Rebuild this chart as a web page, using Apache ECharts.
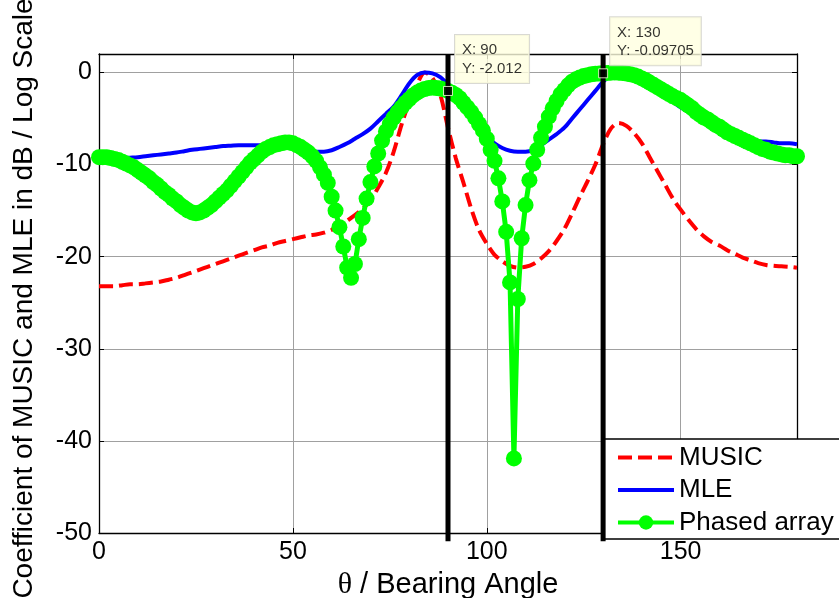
<!DOCTYPE html>
<html>
<head>
<meta charset="utf-8">
<script src="https://cdn.jsdelivr.net/npm/echarts@6/dist/echarts.min.js"></script>
<style>
html,body{margin:0;padding:0;background:#fff;}
#chart{width:839px;height:598px;}
</style>
</head>
<body>
<div id="chart"></div>
<script>
// ---- data ----
// Phased array: sampled every 1 degree from 0 to 180
const phasedStep = 1;
const phasedY = [
-9.2,-9.2,-9.2,-9.3,-9.4,-9.5,-9.7,-9.9,-10.1,-10.3,
-10.6,-10.9,-11.2,-11.5,-11.9,-12.2,-12.6,-13.0,-13.3,-13.7,
-14.0,-14.4,-14.7,-15.0,-15.2,-15.3,-15.2,-15.0,-14.7,-14.4,
-14.0,-13.6,-13.2,-12.8,-12.3,-11.8,-11.3,-10.8,-10.3,-9.8,
-9.4,-9.0,-8.6,-8.3,-8.1,-7.9,-7.8,-7.7,-7.6,-7.6,
-7.7,-7.9,-8.1,-8.4,-8.7,-9.1,-9.6,-10.3,-11.1,-12.0,
-13.5,-15.0,-16.8,-18.9,-21.2,-22.3,-20.8,-18.1,-15.8,-13.7,
-11.9,-10.2,-8.8,-7.4,-6.4,-5.6,-4.9,-4.3,-3.8,-3.3,
-2.9,-2.5,-2.2,-1.95,-1.8,-1.7,-1.65,-1.7,-1.75,-1.85,
-2.012,-2.2,-2.45,-2.8,-3.3,-3.8,-4.3,-4.9,-5.6,-6.3,
-7.2,-8.4,-9.6,-11.5,-14.0,-17.3,-22.8,-41.9,-24.6,-18.0,
-14.4,-11.7,-9.9,-8.4,-7.1,-5.9,-4.8,-3.9,-3.1,-2.4,
-1.9,-1.4,-1.0,-0.75,-0.55,-0.4,-0.3,-0.2,-0.15,-0.12,
-0.097,-0.06,-0.03,-0.02,-0.03,-0.06,-0.12,-0.2,-0.3,-0.45,
-0.65,-0.85,-1.1,-1.35,-1.6,-1.85,-2.1,-2.35,-2.6,-2.8,
-3.0,-3.3,-3.6,-3.9,-4.3,-4.6,-4.9,-5.1,-5.4,-5.7,
-5.9,-6.2,-6.5,-6.7,-6.9,-7.1,-7.3,-7.5,-7.7,-7.9,
-8.1,-8.3,-8.4,-8.6,-8.7,-8.8,-8.9,-9.0,-9.0,-9.1,
-9.1
];
// MUSIC and MLE: sampled every 2 degrees from 0 to 180
const curveStep = 2;
const musicY = [
-23.2,-23.2,-23.2,-23.1,-23.0,-23.0,-22.9,-22.8,-22.7,-22.5,
-22.3,-22.0,-21.7,-21.4,-21.1,-20.8,-20.5,-20.2,-19.9,-19.6,
-19.3,-19.0,-18.8,-18.5,-18.3,-18.1,-17.9,-17.7,-17.6,-17.4,
-17.1,-16.7,-16.1,-15.5,-14.8,-13.9,-12.5,-10.9,-8.6,-5.7,
-3.2,-1.3,0.0,-0.6,-2.4,-6.0,-9.3,-12.0,-14.8,-17.1,
-18.6,-19.8,-20.5,-21.0,-21.2,-21.1,-20.8,-20.2,-19.4,-18.3,
-17.0,-15.3,-13.5,-11.8,-10.0,-7.8,-6.1,-5.5,-5.8,-6.6,
-7.7,-9.2,-10.7,-12.2,-13.7,-14.9,-16.0,-17.0,-17.8,-18.4,
-18.8,-19.3,-19.7,-20.1,-20.4,-20.7,-20.9,-21.0,-21.05,-21.1,
-21.2
];
const mleY = [
-9.3,-9.3,-9.3,-9.3,-9.25,-9.2,-9.1,-9.0,-8.9,-8.8,
-8.7,-8.55,-8.4,-8.3,-8.2,-8.1,-8.0,-7.95,-7.9,-7.9,
-7.9,-7.9,-7.95,-8.0,-8.0,-8.05,-8.2,-8.4,-8.6,-8.6,
-8.45,-8.1,-7.7,-7.2,-6.7,-6.1,-5.3,-4.5,-3.7,-2.5,
-1.2,-0.3,0.0,-0.1,-0.5,-1.3,-2.3,-3.6,-4.9,-6.0,
-6.9,-7.7,-8.2,-8.5,-8.6,-8.6,-8.4,-7.9,-7.3,-6.7,
-6.0,-5.0,-4.0,-3.0,-2.0,-1.0,-0.3,0.0,-0.1,-0.4,
-0.8,-1.4,-2.0,-2.6,-3.2,-3.8,-4.3,-4.8,-5.4,-6.0,
-6.4,-6.8,-7.1,-7.3,-7.4,-7.5,-7.5,-7.6,-7.7,-7.7,
-7.8
];
// data cursors
const cursorX = [90, 130];
const cursorY = [-2.012, -0.09705];
const cursorLineSpan = [2, -50.9];
const cursorText = [['90', '-2.012'], ['130', '-0.09705']];
// axes
const xMin = 0, xMax = 180, xStep = 50;
const yMin = -50, yMax = 2, yStep = 10;
const seriesNames = ['MUSIC', 'MLE', 'Phased array'];
const xTitle = '/ Bearing Angle';
const yTitle = 'Coefficient of MUSIC and MLE in dB / Log Scale';

// ---- build ----
const pairs = (ys, step) => ys.map((v, i) => [i * step, v]);
const FONT = '"Liberation Sans", Arial, sans-serif';

const cursorSeries = cursorX.map((cx, i) => ({
  type: 'line', name: 'cursor' + i,
  data: [[cx, cursorLineSpan[0]], [cx, cursorLineSpan[1]]],
  clip: false, symbol: 'none', silent: true,
  lineStyle: {color: '#000', width: 5}, z: 10
}));

const chart = echarts.init(document.getElementById('chart'), null, {renderer: 'canvas'});
const axisCommon = {
  axisLine: {show: true, onZero: false, lineStyle: {color: '#000', width: 1.3}},
  axisTick: {show: true, inside: true, length: 5, lineStyle: {color: '#000', width: 1}},
};
chart.setOption({
  animation: false,
  backgroundColor: '#fff',
  grid: {left: 99, right: 42, top: 54, bottom: 65, containLabel: false, outerBoundsMode: 'none'},
  legend: {
    data: [
      {name: seriesNames[0], itemStyle: {opacity: 0}},
      {name: seriesNames[1], itemStyle: {opacity: 0}},
      {name: seriesNames[2]}
    ],
    orient: 'vertical', left: 602, top: 439,
    padding: [5, 30, 3, 14],
    backgroundColor: '#fff', borderColor: '#000', borderWidth: 1.3,
    itemWidth: 56, itemHeight: 18, itemGap: 5.5,
    lineStyle: {width: 4},
    textStyle: {fontFamily: FONT, fontSize: 26, color: '#000', lineHeight: 27},
    selectedMode: false
  },
  xAxis: [
    Object.assign({
      type: 'value', min: xMin, max: xMax, interval: xStep, position: 'bottom',
      name: '{t|θ} ' + xTitle, nameLocation: 'middle', nameGap: 27,
      nameTextStyle: {fontFamily: FONT, fontSize: 29, color: '#000',
        rich: {t: {fontFamily: '"Liberation Serif", "DejaVu Serif", serif', fontSize: 30, color: '#000'}}},
      axisLabel: {fontFamily: FONT, fontSize: 25, color: '#000', margin: 7, showMaxLabel: false},
      splitLine: {show: true, lineStyle: {color: '#a0a0a0', width: 1}}
    }, axisCommon),
    Object.assign({
      type: 'value', min: xMin, max: xMax, interval: xStep, position: 'top',
      axisLabel: {show: false}, splitLine: {show: false}
    }, axisCommon)
  ],
  yAxis: [
    Object.assign({
      type: 'value', min: yMin, max: yMax, interval: yStep, position: 'left',
      name: yTitle, nameLocation: 'middle', nameGap: 61, nameRotate: 90,
      nameTextStyle: {fontFamily: FONT, fontSize: 28, color: '#000', padding: [0, 10, 0, 0]},
      axisLabel: {fontFamily: FONT, fontSize: 25, color: '#000', margin: 7, showMaxLabel: false,
        formatter: v => (v < 0 ? '-' + Math.abs(v) : String(v))},
      splitLine: {show: true, lineStyle: {color: '#a0a0a0', width: 1}}
    }, axisCommon),
    Object.assign({
      type: 'value', min: yMin, max: yMax, interval: yStep, position: 'right',
      axisLabel: {show: false}, splitLine: {show: false}
    }, axisCommon)
  ],
  series: [
    {
      type: 'line', name: seriesNames[0], data: pairs(musicY, curveStep),
      symbol: 'none', smooth: 0.3, z: 3,
      lineStyle: {color: '#ff0000', width: 4, type: [14, 6]},
      itemStyle: {color: '#ff0000'}
    },
    {
      type: 'line', name: seriesNames[1], data: pairs(mleY, curveStep),
      symbol: 'none', smooth: 0.3, z: 4,
      lineStyle: {color: '#0000ff', width: 4},
      itemStyle: {color: '#0000ff'}
    },
    {
      type: 'line', name: seriesNames[2], data: pairs(phasedY, phasedStep),
      symbol: 'circle', symbolSize: 16, showAllSymbol: true, z: 5,
      lineStyle: {color: '#00ff00', width: 5},
      itemStyle: {color: '#00ff00', borderWidth: 0}
    },
    ...cursorSeries,
    {
      type: 'scatter', name: 'datatip',
      data: cursorX.map((cx, i) => [cx, cursorY[i]]),
      symbol: 'rect', symbolSize: 9, z: 12, silent: true, clip: false,
      itemStyle: {color: '#000', borderColor: '#ffffe0', borderWidth: 1},
      label: {
        show: true, position: [12, -51], align: 'left', verticalAlign: 'top',
        formatter: p => 'X: ' + cursorText[p.dataIndex][0] + '\nY: ' + cursorText[p.dataIndex][1],
        fontFamily: FONT, fontSize: 15, color: '#000', lineHeight: 18.5,
        backgroundColor: '#ffffe0', borderColor: '#d0d0c8', borderWidth: 1,
        padding: [6, 7, 5, 7]
      }
    }
  ]
});
</script>
</body>
</html>
